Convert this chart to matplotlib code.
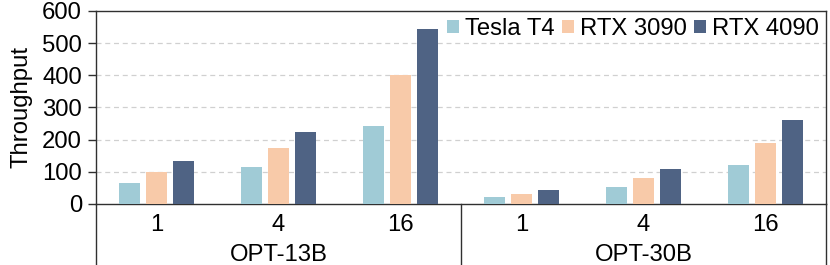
import matplotlib
matplotlib.use("Agg")
import matplotlib.pyplot as plt
import numpy as np
from matplotlib.lines import Line2D

plt.rcParams['font.family'] = ['Liberation Sans', 'DejaVu Sans']

models = ["OPT-13B", "OPT-30B"]
batch_sizes = ["1", "4", "16"]
series_names = ["Tesla T4", "RTX 3090", "RTX 4090"]
tesla_t4 = [66, 115, 243, 22, 53, 121]
rtx_3090 = [100, 175, 400, 31, 81, 190]
rtx_4090 = [135, 223, 543, 45, 109, 261]
y_ticks = [0, 100, 200, 300, 400, 500, 600]
colors = ["#A0CBD6", "#F8CAA9", "#4F6384"]

FS = 17.2
fig = plt.figure(figsize=(8.3, 2.65), dpi=100)
ax = fig.add_axes([96/830, 61/265, 730/830, 193/265])

n = len(models) * len(batch_sizes)
x = np.arange(n)
bw = 0.172
pitch = 0.222
for i, (vals, name, c) in enumerate(zip([tesla_t4, rtx_3090, rtx_4090], series_names, colors)):
    ax.bar(x + (i - 1) * pitch, vals, width=bw, color=c, label=name, zorder=3)

ax.set_xlim(-0.5, n - 0.5)
ax.set_ylim(0, 600)
ax.set_yticks(y_ticks)
ax.set_xticks(x)
ax.set_xticklabels(batch_sizes * len(models))
ax.tick_params(axis='x', length=0, pad=7, labelsize=FS)
ax.tick_params(axis='y', length=6, width=1.0, direction='out', pad=4, labelsize=FS, color='#303030')
for v in y_ticks[1:-1]:
    ax.axhline(v, color='#D0D0D0', linestyle=(0, (4, 3)), linewidth=0.9, zorder=1)
for s in ax.spines.values():
    s.set_color('#303030')
    s.set_linewidth(1.0)
ax.set_ylabel("Throughput", fontsize=FS, labelpad=7)

# group labels and separators
drop = -61/193
for gi, m in enumerate(models):
    cx = gi * len(batch_sizes) + (len(batch_sizes) - 1) / 2
    ax.text(cx, -57/193, m, transform=ax.get_xaxis_transform(), ha='center', va='baseline', fontsize=FS)
for xb in [-0.5, 2.5, n - 0.5]:
    ax.add_line(Line2D([xb, xb], [0, drop], transform=ax.get_xaxis_transform(),
                       color='#303030', linewidth=1.0, clip_on=False))

leg = ax.legend(loc='upper right', ncol=3, frameon=False, fontsize=FS,
                handlelength=0.5, handleheight=0.5, handletextpad=0.25,
                columnspacing=0.3, borderaxespad=0.0, borderpad=0.3,
                bbox_to_anchor=(1.0, 1.0))

fig.savefig("out.png", dpi=100)
